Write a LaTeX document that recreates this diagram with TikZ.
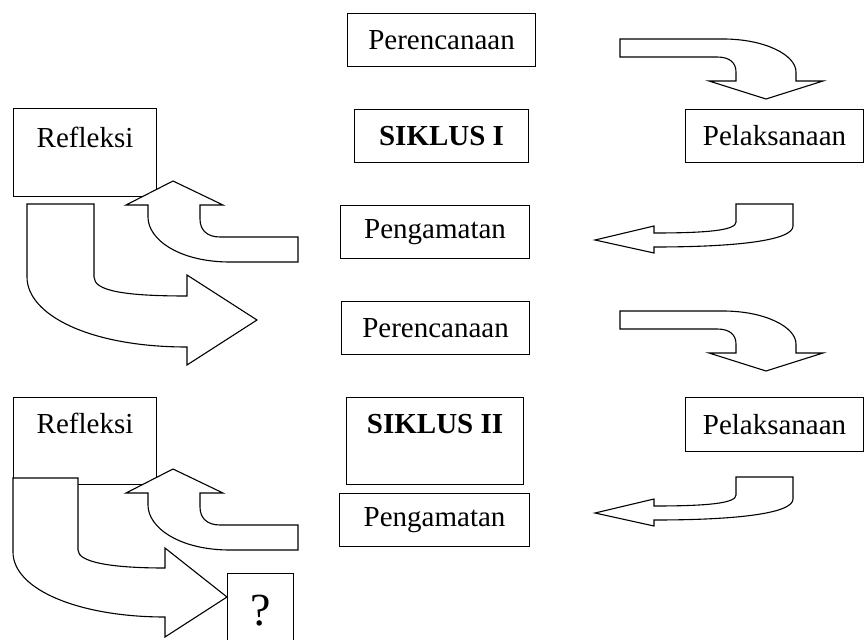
\documentclass[tikz,border=0pt]{standalone}
\usepackage{fontspec}
\setmainfont{Liberation Serif}
\begin{document}
\begin{tikzpicture}[x=1pt,y=-1pt,
  lbl/.style={draw=black,line width=1.1pt,fill=white,inner sep=0pt,anchor=north west,
    font=\fontsize{29}{34}\selectfont},
  blk/.style={draw=black,line width=1.1pt,fill=white,line join=miter}]
\useasboundingbox (0,0) rectangle (866,639);
% boxes
\node[lbl,minimum width=188,minimum height=53] (per1) at (347,13) {Perencanaan};
\node[lbl,minimum width=174,minimum height=53] (sik1) at (354,109) {\bfseries SIKLUS I};
\node[lbl,minimum width=189,minimum height=53] (pen1) at (340,205) {Pengamatan};
\node[lbl,minimum width=188,minimum height=53] (per2) at (341,301) {Perencanaan};
\node[lbl,minimum width=177,text height=36,text depth=51] (sik2) at (346,397) {\bfseries SIKLUS II};
\node[lbl,minimum width=190,minimum height=53] (pen2) at (339,493) {Pengamatan};
\node[lbl,minimum width=178,minimum height=53] (pel1) at (685,109) {Pelaksanaan};
\node[lbl,minimum width=178,minimum height=54] (pel2) at (685,397) {Pelaksanaan};
\node[lbl,minimum width=143,text height=39,text depth=49] (ref1) at (13,108) {Refleksi};
\node[lbl,minimum width=143,text height=36,text depth=51] (ref2) at (13,397) {Refleksi};
% right curved down arrows
\foreach \dy in {0,272}{
\draw[blk,yshift=-\dy] (620,39) -- (723,39) .. controls (765,39) and (796,55) .. (796,72) -- (796,81)
  -- (823,81) -- (766,99) -- (709,81) -- (736,81) -- (736,72)
  .. controls (736,63) and (730,57) .. (717,57) -- (620,57) -- cycle;
}
% right curved left arrows
\foreach \dy in {0,273}{
\draw[blk,yshift=-\dy] (793,204) -- (793,226) .. controls (793,240) and (740,247) .. (654,247)
  -- (654,253) -- (595,240) -- (654,226) -- (654,233)
  .. controls (710,233) and (736,230) .. (736,222) -- (736,204) -- cycle;
}
% left up arrows
\foreach \dy in {0,288}{
\draw[blk,yshift=-\dy] (298,237) -- (220,237) .. controls (207,237) and (200,230) .. (200,219)
  -- (200,205) -- (223,205) -- (173,181) -- (126,205) -- (148,205) -- (148,217)
  .. controls (148,240) and (180,262) .. (230,262) -- (298,262) -- cycle;
}
% big curved right arrows
\draw[blk] (27,204) -- (94,204) -- (94,277) .. controls (94,291) and (125,296) .. (187,296)
  -- (187,275) -- (257,320) -- (187,365) -- (187,347)
  .. controls (90,347) and (27,315) .. (27,277) -- cycle;
\draw[blk] (13,478) -- (78,478) -- (78,550) .. controls (78,562) and (110,568) .. (165,568)
  -- (165,548) -- (227,597) -- (165,637) -- (165,617)
  .. controls (80,617) and (13,590) .. (13,552) -- cycle;
% question box
\node[lbl,minimum width=66,text height=52,text depth=32,font=\fontsize{46}{50}\selectfont] (q) at (227,573) {?};
\end{tikzpicture}
\end{document}
